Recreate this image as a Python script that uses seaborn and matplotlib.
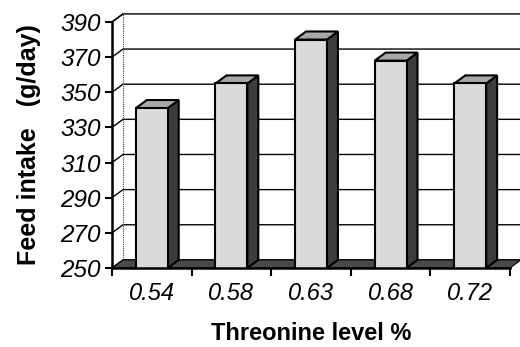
import matplotlib
matplotlib.use("Agg")
import matplotlib.pyplot as plt
import seaborn as sns
import pandas as pd
from matplotlib.patches import Polygon

levels = ["0.54", "0.58", "0.63", "0.68", "0.72"]
feed_intake = [341, 355, 380, 368, 355]
y_ticks = [250, 270, 290, 310, 330, 350, 370, 390]

sns.set_theme(style="white")
plt.rcParams['font.family'] = ['Liberation Sans', 'DejaVu Sans']
plt.rcParams['text.color'] = 'black'
plt.rcParams['axes.labelcolor'] = 'black'
plt.rcParams['xtick.color'] = 'black'
plt.rcParams['ytick.color'] = 'black'

df = pd.DataFrame({"level": levels, "intake": feed_intake})

fig = plt.figure(figsize=(5.2, 3.47), dpi=100)
ax = fig.add_axes([0.2154, 0.2277, 0.7654, 0.7089])

ymin, ymax = 250, 390
# depth offset in data units
dxd = 0.138
dyd = 4.6

# back wall gridlines
for yv in y_ticks:
    ax.plot([-0.5, -0.5 + dxd, 4.5 + dxd], [yv, yv + dyd, yv + dyd],
            color="black", lw=1.0, clip_on=False, zorder=0)
ax.plot([-0.5 + dxd, -0.5 + dxd], [ymin + dyd, ymax + dyd], color="#444444",
        lw=0.8, clip_on=False, zorder=0, ls=(0, (1, 1)))
ax.plot([4.5 + dxd, 4.5 + dxd], [ymin + dyd, ymax + dyd], color="#444444",
        lw=0.8, clip_on=False, zorder=0)
ax.plot([-0.5, -0.5 + dxd], [ymax, ymax + dyd], color="black", lw=1.0, clip_on=False, zorder=0)

# floor
floor = Polygon([(-0.5, ymin), (-0.5 + dxd, ymin + dyd), (4.5 + dxd, ymin + dyd), (4.5, ymin)],
                closed=True, facecolor="#4a4a4a", edgecolor="black", lw=0.8,
                clip_on=False, zorder=1)
ax.add_patch(floor)

sns.barplot(data=df, x="level", y="intake", ax=ax, color="#dadada",
            edgecolor="black", linewidth=1.5, width=0.4, saturation=1, zorder=3)

for p in list(ax.patches):
    if p is floor:
        continue
    x0 = p.get_x()
    w = p.get_width()
    x1 = x0 + w
    v = p.get_y() + p.get_height()
    side = Polygon([(x1, ymin), (x1 + dxd, ymin + dyd), (x1 + dxd, v + dyd), (x1, v)],
                   closed=True, facecolor="#3c3c3c", edgecolor="black", lw=1.5,
                   clip_on=False, zorder=2.9)
    top = Polygon([(x0, v), (x0 + dxd, v + dyd), (x1 + dxd, v + dyd), (x1, v)],
                  closed=True, facecolor="#a8a8a8", edgecolor="black", lw=1.5,
                  clip_on=False, zorder=2.9)
    ax.add_patch(side)
    ax.add_patch(top)

ax.set_ylim(ymin, ymax)
ax.set_xlim(-0.5, 4.5)
ax.set_yticks(y_ticks)
ax.set_yticklabels([str(t) for t in y_ticks], fontsize=17.5, style="italic")
ax.set_xticks(range(len(levels)))
ax.set_xticklabels(levels, fontsize=17, style="italic")
ax.tick_params(axis="x", length=0, pad=10)
ax.tick_params(axis="y", left=True, length=5, width=1.5, pad=3, color="black")
# minor ticks at category boundaries on x
ax.set_xticks([i - 0.5 for i in range(len(levels) + 1)], minor=True)
ax.tick_params(axis="x", which="minor", bottom=True, length=6, width=1.5, color="black")

for s in ["top", "right"]:
    ax.spines[s].set_visible(False)
ax.spines["left"].set_linewidth(1.8)
ax.spines["bottom"].set_linewidth(1.8)
ax.spines["left"].set_color("black")
ax.spines["bottom"].set_color("black")
ax.spines["left"].set_zorder(5)
ax.spines["bottom"].set_zorder(5)

ax.set_xlabel("Threonine level %", fontsize=17, fontweight="bold", labelpad=12)
ax.set_ylabel("Feed intake   (g/day)", fontsize=18, fontweight="bold", labelpad=14)

fig.savefig("out.png", dpi=100)
